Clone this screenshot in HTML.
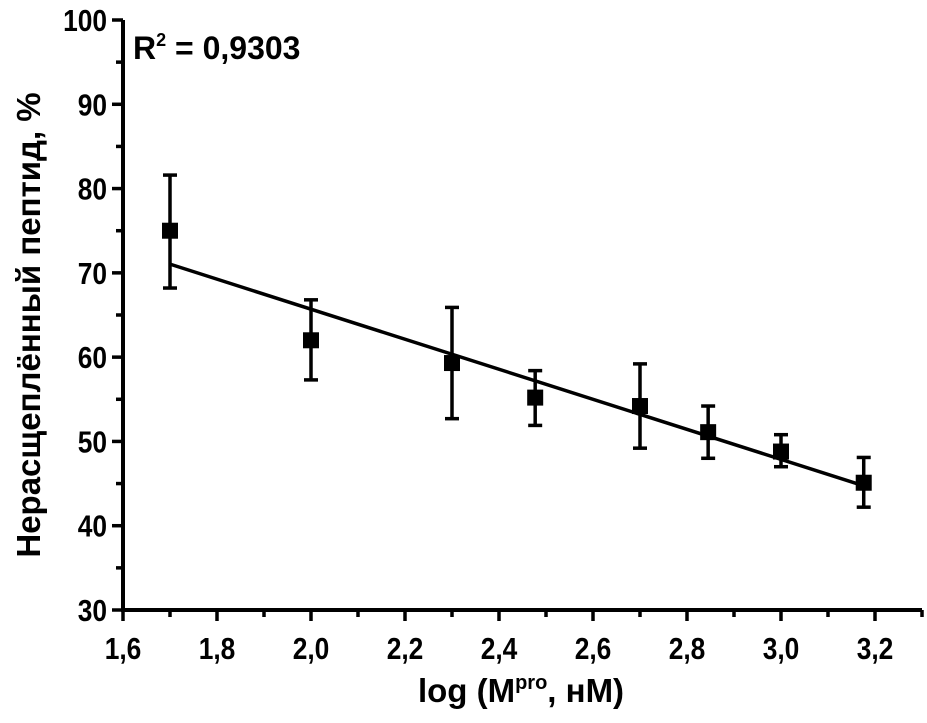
<!DOCTYPE html>
<html><head><meta charset="utf-8"><style>
body{margin:0;background:#fff}
svg text{font-family:"Liberation Sans Narrow","Liberation Sans",sans-serif;font-weight:bold;fill:#000}
</style></head><body>
<svg id="chart" width="927" height="718" xmlns="http://www.w3.org/2000/svg"></svg>
<script>
const xs=[1.7,2.0,2.3,2.477,2.7,2.845,3.0,3.176];
const ys=[75,62,59.3,55.2,54.2,51.1,48.8,45.1];
const errLo=[68.2,57.3,52.7,51.9,49.2,48.0,47.0,42.2];
const errHi=[81.6,66.8,65.9,58.4,59.2,54.2,50.8,48.1];
const xTicks=[1.6,1.8,2.0,2.2,2.4,2.6,2.8,3.0,3.2];
const yTicks=[30,40,50,60,70,80,90,100];
const NS="http://www.w3.org/2000/svg";
const svg=document.getElementById('chart');
const X=v=>123+(v-1.6)*470;
const Y=v=>610-(v-30)*590/70;
function mk(t,a,p){const e=document.createElementNS(NS,t);for(const k in a)e.setAttribute(k,a[k]);(p||svg).appendChild(e);return e;}
let e;
e=mk('line',{x1:X(1.6)-2,y1:Y(30),x2:X(3.3),y2:Y(30),stroke:'#000','stroke-width':4});


e=mk('line',{x1:X(1.6),y1:Y(30)+2,x2:X(1.6),y2:Y(100),stroke:'#000','stroke-width':4});


for(let v=1.6;v<3.31;v+=0.1){const major=Math.round(v*10)%2===0;
 e=mk('line',{x1:X(v),y1:Y(30),x2:X(v),y2:Y(30)+(major?11:7),stroke:'#000','stroke-width':3.5});
 
 }
for(let v=30;v<=100;v+=5){const major=v%10===0;
 e=mk('line',{x1:X(1.6),y1:Y(v),x2:X(1.6)-(major?11:7),y2:Y(v),stroke:'#000','stroke-width':3.5});
 
 }
xTicks.forEach(v=>{const g=mk('g',{transform:`translate(${X(v)},659) scale(0.85,1)`});
 e=mk('text',{x:0,y:0,'text-anchor':'middle','font-size':31},g);e.textContent=v.toFixed(1).replace('.',',');
 
 });
yTicks.forEach(v=>{const g=mk('g',{transform:`translate(107,${Y(v)+11}) scale(0.85,1)`});
 e=mk('text',{x:0,y:0,'text-anchor':'end','font-size':31},g);e.textContent=v;
 
 });
const n=xs.length,mx=xs.reduce((a,b)=>a+b)/n,my=ys.reduce((a,b)=>a+b)/n;
let sxy=0,sxx=0;xs.forEach((x,i)=>{sxy+=(x-mx)*(ys[i]-my);sxx+=(x-mx)**2;});
const b=sxy/sxx,a=my-b*mx,x0=xs[0],x1=xs[n-1];
e=mk('line',{x1:X(x0),y1:Y(a+b*x0),x2:X(x1),y2:Y(a+b*x1),stroke:'#000','stroke-width':3.5});


xs.forEach((x,i)=>{
 const g=mk('g',{});
 
 
 mk('line',{x1:X(x),y1:Y(errLo[i]),x2:X(x),y2:Y(errHi[i]),stroke:'#000','stroke-width':3.5},g);
 mk('line',{x1:X(x)-7,y1:Y(errLo[i]),x2:X(x)+7,y2:Y(errLo[i]),stroke:'#000','stroke-width':3.5},g);
 mk('line',{x1:X(x)-7,y1:Y(errHi[i]),x2:X(x)+7,y2:Y(errHi[i]),stroke:'#000','stroke-width':3.5},g);
 mk('rect',{x:X(x)-8,y:Y(ys[i])-8,width:16,height:16,fill:'#000'},g);
});
</script>
<svg style="position:absolute;left:0;top:0" width="927" height="718" xmlns="http://www.w3.org/2000/svg">
<text x="133" y="59" font-size="32">R<tspan font-size="18" dy="-13">2</tspan><tspan dy="13"> = 0,9303</tspan></text>
<text x="521" y="702" text-anchor="middle" font-size="33">log (M<tspan font-size="20" dy="-13">pro</tspan><tspan dy="13">, нМ)</tspan></text>
<text transform="translate(40,325) rotate(-90)" text-anchor="middle" font-size="33">Нерасщеплённый пептид, %</text>
</svg>
</body></html>
